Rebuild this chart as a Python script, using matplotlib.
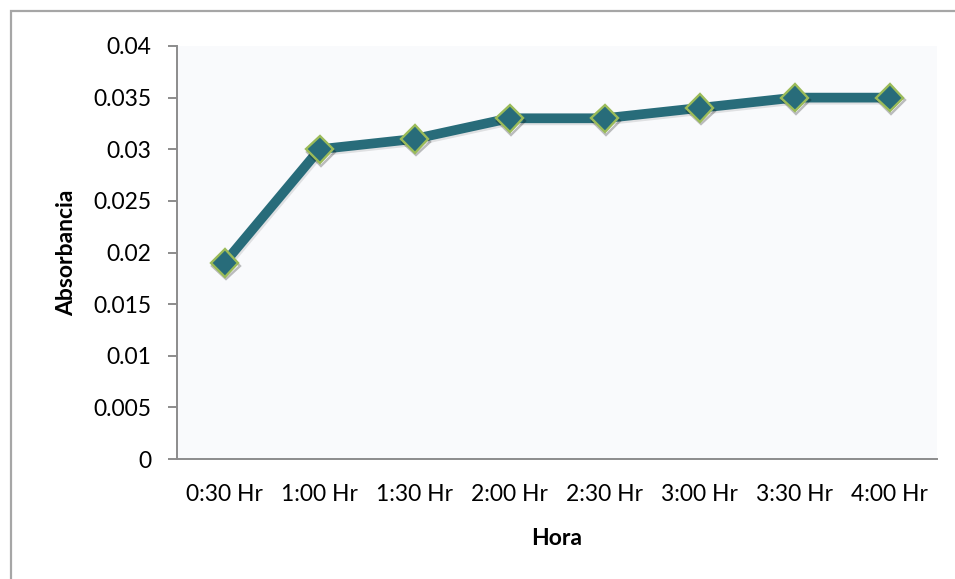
import matplotlib
matplotlib.use("Agg")
import matplotlib.pyplot as plt
import matplotlib.patheffects as pe
from matplotlib.patches import Rectangle

plt.rcParams['font.family'] = ['Lato', 'DejaVu Sans']

horas = ["0:30 Hr", "1:00 Hr", "1:30 Hr", "2:00 Hr", "2:30 Hr", "3:00 Hr", "3:30 Hr", "4:00 Hr"]
absorbancia = [0.019, 0.030, 0.031, 0.033, 0.033, 0.034, 0.035, 0.035]
y_ticks = [0, 0.005, 0.01, 0.015, 0.02, 0.025, 0.03, 0.035, 0.04]
y_tick_labels = ["0", "0.005", "0.01", "0.015", "0.02", "0.025", "0.03", "0.035", "0.04"]

W, H = 955, 579
fig = plt.figure(figsize=(W / 100, H / 100), dpi=100)
fig.patch.set_facecolor("white")

# outer frame of the chart object
fig.add_artist(Rectangle((11 / W, -0.2), 1.2, 1.2 - 11.5 / H,
                         transform=fig.transFigure, fill=False,
                         edgecolor="#A6A6A6", linewidth=1.6))

ax = fig.add_axes([177 / W, 1 - 459 / H, 760 / W, 413 / H])
ax.set_facecolor("#F9FAFC")

x = list(range(len(horas)))
line_color = "#286C7A"
ax.plot(x, absorbancia, color=line_color, linewidth=7, solid_capstyle="butt",
        zorder=3,
        path_effects=[pe.SimpleLineShadow(offset=(1, -1.5), shadow_color="black",
                                          alpha=0.1),
                      pe.Normal()])
ax.plot(x, absorbancia, linestyle="none", marker="D", markersize=14,
        markerfacecolor=line_color, markeredgecolor="#9BBB59",
        markeredgewidth=1.7, zorder=4,
        path_effects=[pe.SimpleLineShadow(offset=(1, -2), shadow_color="black",
                                          alpha=0.25),
                      pe.Normal()])

ax.set_xlim(-0.5, len(horas) - 0.5)
ax.set_ylim(0, 0.04)
ax.set_xticks(x)
ax.set_xticklabels(horas)
ax.set_yticks(y_ticks)
ax.set_yticklabels(y_tick_labels)

for side in ("top", "right"):
    ax.spines[side].set_visible(False)
for side in ("left", "bottom"):
    ax.spines[side].set_color("#8C8C8C")
    ax.spines[side].set_linewidth(1.4)

fs = 16.5
ax.tick_params(axis="y", length=6.5, width=1.4, color="#8C8C8C",
               labelsize=fs, pad=12, direction="out")
ax.tick_params(axis="x", length=0, labelsize=fs, pad=18)

ax.set_ylabel("Absorbancia", fontsize=fs, fontweight="bold")
ax.yaxis.set_label_coords(-0.1316, 0.5)
ax.set_xlabel("Hora", fontsize=fs, fontweight="bold")
ax.xaxis.set_label_coords(0.5, -0.167)

fig.savefig("out.png", dpi=100)
